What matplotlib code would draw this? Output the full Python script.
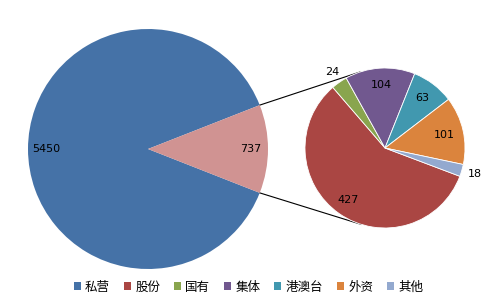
import numpy as np
import matplotlib
matplotlib.use("Agg")
import matplotlib.pyplot as plt
from matplotlib.patches import Patch

# Data
main_labels = ["私营", "其他合计"]
main_values = [5450, 737]
sub_labels = ["股份", "国有", "集体", "港澳台", "外资", "其他"]
sub_values = [427, 24, 104, 63, 101, 18]

main_colors = ["#4572A7", "#D09392"]
sub_colors = ["#AA4643", "#89A54E", "#71588F", "#4198AF", "#DB843D", "#93A9CF"]

W, H = 492, 308
fig = plt.figure(figsize=(W / 100, H / 100), dpi=100)
ax = fig.add_axes([0, 0, 1, 1])

c1, r1 = (148.0, 159.0), 120.0
c2, r2 = (385.0, 160.0), 80.0

total_main = sum(main_values)
half_other = main_values[1] / total_main * 180.0
w1, _ = ax.pie(main_values, colors=main_colors, startangle=half_other,
               counterclock=True, center=c1, radius=r1,
               wedgeprops=dict(linewidth=0))
w2, _ = ax.pie(sub_values, colors=sub_colors, startangle=-20.7,
               counterclock=False, center=c2, radius=r2,
               wedgeprops=dict(linewidth=0.6, edgecolor="white"))

ax.set_xlim(0, W)
ax.set_ylim(0, H)
ax.set_aspect("equal")
ax.axis("off")

def place(wedges, values, center, radius, dists):
    for w, v, d in zip(wedges, values, dists):
        ang = np.deg2rad((w.theta1 + w.theta2) / 2)
        x = center[0] + d * radius * np.cos(ang)
        y = center[1] + d * radius * np.sin(ang)
        ax.text(x, y, str(v), ha="center", va="center", fontsize=8,
                family="DejaVu Sans", color="black")

place(w1, main_values, c1, r1, [0.85, 0.86])
place(w2, sub_values, c2, r2, [0.8, 1.16, 0.79, 0.78, 0.76, 1.17])

# connector lines (tangents from split wedge edges to second pie)
for sign in (1, -1):
    a = np.deg2rad(sign * half_other)
    P = np.array([c1[0] + r1 * np.cos(a), c1[1] + r1 * np.sin(a)])
    v = P - np.array(c2)
    d = np.hypot(*v)
    base = np.arctan2(v[1], v[0])
    off = np.arccos(r2 / d)
    cands = [base + off, base - off]
    pts = [np.array([c2[0] + r2 * np.cos(t), c2[1] + r2 * np.sin(t)]) for t in cands]
    T = max(pts, key=lambda p: sign * p[1])
    ax.plot([P[0], T[0]], [P[1], T[1]], color="black", lw=0.8, zorder=0)

handles = [Patch(facecolor=main_colors[0], edgecolor="none")] + \
          [Patch(facecolor=c, edgecolor="none") for c in sub_colors]
labels = [main_labels[0]] + sub_labels
fig.legend(handles, labels, loc="center", bbox_to_anchor=(0.505, 1 - 287 / H),
           ncol=7, frameon=False, handlelength=0.56, handleheight=0.56,
           handletextpad=0.35, columnspacing=1.1,
           prop={"family": ["Noto Sans CJK SC", "DejaVu Sans"], "size": 9})

fig.savefig("out.png", dpi=100)
